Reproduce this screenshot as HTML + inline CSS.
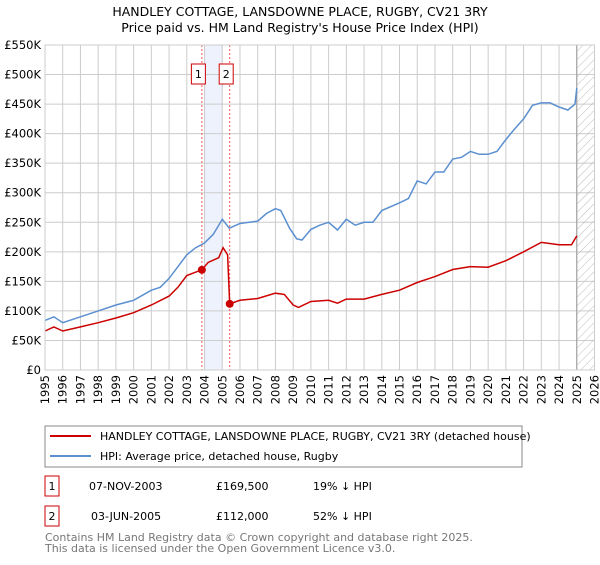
<!DOCTYPE html>
<html><head><meta charset="utf-8"><style>
body{margin:0;background:#fff;font-family:"Liberation Sans","DejaVu Sans",sans-serif}
svg text{font-family:"DejaVu Sans","Liberation Sans",sans-serif}
</style></head><body>
<svg id="c" width="600" height="560" xmlns="http://www.w3.org/2000/svg">
<defs><pattern id="hatch" width="6" height="6" patternUnits="userSpaceOnUse" patternTransform="rotate(45)"><line x1="0" y1="0" x2="0" y2="6" stroke="#bbb" stroke-width="1"/></pattern></defs>
<text x="300" y="16" text-anchor="middle" font-size="12.5">HANDLEY COTTAGE, LANSDOWNE PLACE, RUGBY, CV21 3RY</text>
<text x="300" y="32" text-anchor="middle" font-size="12.5">Price paid vs. HM Land Registry's House Price Index (HPI)</text>
<g id="grid"></g><g id="marks"></g><g id="axes"></g>
<rect x="45" y="426" width="477" height="41" fill="#fff" stroke="#888"/>
<line x1="50" y1="436" x2="91" y2="436" stroke="#cc0000" stroke-width="2"/>
<text x="100" y="440" font-size="11">HANDLEY COTTAGE, LANSDOWNE PLACE, RUGBY, CV21 3RY (detached house)</text>
<line x1="50" y1="456" x2="91" y2="456" stroke="#5b8fd0" stroke-width="2"/>
<text x="100" y="460" font-size="11">HPI: Average price, detached house, Rugby</text>
<g font-size="11">
<rect x="45" y="476" width="14" height="20" fill="none" stroke="#cc0000"/><text x="52" y="490" text-anchor="middle">1</text>
<text x="89" y="490">07-NOV-2003</text>
<text x="216" y="490">£169,500</text>
<text x="313" y="490">19% ↓ HPI</text>
<rect x="45" y="506" width="14" height="20" fill="none" stroke="#cc0000"/><text x="52" y="520" text-anchor="middle">2</text>
<text x="91" y="520">03-JUN-2005</text>
<text x="216" y="520">£112,000</text>
<text x="313" y="520">52% ↓ HPI</text>
</g>
<text x="45" y="541" font-size="11" fill="#777">Contains HM Land Registry data © Crown copyright and database right 2025.</text>
<text x="45" y="552" font-size="11" fill="#777">This data is licensed under the Open Government Licence v3.0.</text>
</svg>
<script>
const hpiYears=[1995,1995.5,1996,1997,1998,1999,2000,2001,2001.5,2002,2003,2003.5,2004,2004.5,2005,2005.4,2006,2007,2007.5,2008,2008.3,2008.8,2009.2,2009.5,2010,2010.5,2011,2011.5,2012,2012.5,2013,2013.5,2014,2015,2015.5,2016,2016.5,2017,2017.5,2018,2018.5,2019,2019.5,2020,2020.5,2021,2021.5,2022,2022.5,2023,2023.5,2024,2024.5,2024.9,2025];
const hpiValues=[84,90,80,90,100,110,118,135,140,155,195,207,215,230,255,240,248,252,265,273,270,240,222,220,238,245,250,237,255,245,250,250,270,283,290,320,315,335,335,357,360,370,365,365,370,390,408,425,448,452,452,445,440,450,477];
const propYears=[1995,1995.5,1996,1997,1998,1999,2000,2001,2002,2002.5,2003,2003.85,2004.2,2004.8,2005.05,2005.3,2005.42,2006,2007,2008,2008.5,2009,2009.3,2010,2011,2011.5,2012,2013,2014,2015,2016,2017,2018,2019,2020,2021,2022,2023,2024,2024.7,2025];
const propValues=[66,73,66,73,80,88,97,110,125,140,160,169.5,182,190,207,195,112,118,121,130,128,110,106,116,118,113,120,120,128,135,148,158,170,175,174,185,200,216,212,212,227];
const saleYears=[2003.85,2005.42];
const saleValues=[169.5,112];
const yTicks=[0,50,100,150,200,250,300,350,400,450,500,550];
const xTicks=[1995,1996,1997,1998,1999,2000,2001,2002,2003,2004,2005,2006,2007,2008,2009,2010,2011,2012,2013,2014,2015,2016,2017,2018,2019,2020,2021,2022,2023,2024,2025,2026];
const X0=45,X1=594.5,Y0=370,Y1=45;
const xs=y=>X0+(y-1995)/31*(X1-X0);
const ys=v=>Y0-v/550*(Y0-Y1);
const NS="http://www.w3.org/2000/svg";
function mk(p,t,a){const e=document.createElementNS(NS,t);for(const k in a)e.setAttribute(k,a[k]);p.appendChild(e);return e;}
const g=document.getElementById('grid'),m=document.getElementById('marks'),ax=document.getElementById('axes');
let band=mk(g,'rect',{x:xs(2004),y:Y1,width:xs(2005)-xs(2004),height:Y0-Y1,fill:'#eef2fc'});


yTicks.forEach(v=>{mk(g,'line',{x1:X0,x2:X1,y1:ys(v),y2:ys(v),stroke:'#ccc'});
const t=mk(ax,'text',{x:X0-4,y:ys(v)+4,'text-anchor':'end','font-size':'11.5'});t.textContent=v===0?'£0':'£'+v+'K';

});
xTicks.forEach(y=>{mk(g,'line',{x1:xs(y),x2:xs(y),y1:Y1,y2:Y0,stroke:'#ccc'});
const t=mk(ax,'text',{x:0,y:0,'font-size':'11.5','text-anchor':'end',transform:`translate(${xs(y)+4},${Y0+5}) rotate(-90)`});t.textContent=y;

});
let h=mk(g,'rect',{x:xs(2025),y:Y1,width:X1-xs(2025),height:Y0-Y1,fill:'url(#hatch)',stroke:'#999'});


mk(ax,'rect',{x:X0,y:Y1,width:X1-X0,height:Y0-Y1,fill:'none',stroke:'#ccc'});
saleYears.forEach((y,i)=>{const l=mk(m,'line',{x1:xs(y),x2:xs(y),y1:Y1,y2:Y0,stroke:'#e55','stroke-dasharray':'2,2'});


const bx=xs(y)-3.5;
mk(m,'rect',{x:bx-7,y:64,width:14,height:20,fill:'#fff',stroke:'#cc0000'});
const t=mk(m,'text',{x:bx,y:78,'text-anchor':'middle','font-size':'11'});t.textContent=i+1;

});
const pl=(xa,va)=>xa.map((x,i)=>(i?'L':'M')+xs(x).toFixed(1)+','+ys(va[i]).toFixed(1)).join('');
let p1=mk(m,'path',{d:pl(hpiYears,hpiValues),fill:'none',stroke:'#5b8fd0','stroke-width':1.5});


let p2=mk(m,'path',{d:pl(propYears,propValues),fill:'none',stroke:'#cc0000','stroke-width':1.5});


saleYears.forEach((y,i)=>{const c=mk(m,'circle',{cx:xs(y),cy:ys(saleValues[i]),r:4,fill:'#cc0000'});

});
</script>
</body></html>
